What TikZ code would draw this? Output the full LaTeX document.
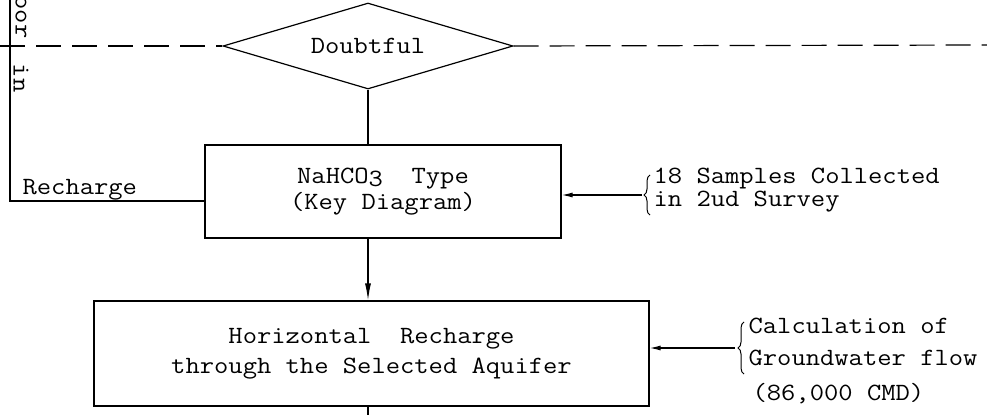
\documentclass[tikz,border=0pt]{standalone}
\usepackage{fontspec}
\setmonofont[FakeStretch=1.12]{Latin Modern Mono}
\usetikzlibrary{arrows.meta,shapes.geometric,decorations.pathreplacing}
\begin{document}
\begin{tikzpicture}[x=1pt,y=-1pt,line width=1.2pt,
  tt/.style={font=\ttfamily\fontsize{24.8}{23.5}\selectfont},
  box/.style={draw,rectangle,inner sep=0pt,tt,align=center},
  dia/.style={draw,diamond,shape aspect=3.37,inner sep=0pt,tt,minimum width=290pt,minimum height=86pt},
  dashline/.style={dash pattern=on 25pt off 11pt},
  arr/.style={-{Latex[length=11pt,width=5pt]}},
  varr/.style={-{Latex[length=17pt,width=6pt]}},
  brc/.style={decorate,decoration={brace,amplitude=6pt},line width=1pt},
  lbl/.style={tt,inner sep=0pt}]
\useasboundingbox (0,0) rectangle (987,415);
% nodes
\node[dia] (dia) at (368,46) {Doubtful};
\node[box,minimum width=356pt,minimum height=93pt,
  font=\ttfamily\fontsize{24.8}{26}\selectfont] (b1) at (383,191.5)
  {NaHCO\raisebox{-3pt}{3}~~Type\\(Key~Diagram)};
\node[box,minimum width=555pt,minimum height=105pt,
  font=\ttfamily\fontsize{24.8}{30}\selectfont] (b2) at (371.5,353.5)
  {Horizontal~~Recharge\\through the Selected Aquifer};
\node[lbl,anchor=base west] (rch) at (22,194) {Recharge};
\node[lbl,rotate=-90] (oor) at (21,17) {oor};
\node[lbl,rotate=-90] (in) at (21,78) {in};
\node[lbl,align=left,anchor=west] (n1) at (653,190) {18 Samples Collected\\in 2ud Survey};
\node[lbl,align=left,anchor=west,font=\ttfamily\fontsize{24.8}{32}\selectfont] (n2) at (748,342)
  {Calculation of\\Groundwater flow};
\node[lbl,anchor=west] (n3) at (752,394) {(86,000 CMD)};
% coordinates
\coordinate (dl) at (0,46);
\coordinate (dr) at (987,45);
\coordinate (ltop) at (10,0);
\coordinate (lbot) at (10,201);
\coordinate (bot) at (368,415);
\coordinate (t1) at (642,195);
\coordinate (t2) at (735,348);
% connectors
\draw[dashline] (dl) -- (dia.west);
\draw[dashline] (dia.east) -- (dr);
\draw (ltop) -- (lbot) -- (lbot -| b1.west);
\draw (dia.south) -- (dia.south |- b1.north);
\draw[varr] (b1.south -| dia.south) -- (b2.north -| dia.south);
\draw (b2.south -| bot) -- (bot);
\draw[brc] ([shift={(8,20)}]t1) -- ([shift={(8,-20)}]t1);
\draw[arr] (t1) -- (t1 -| b1.east);
\draw[brc] ([shift={(9,26)}]t2) -- ([shift={(9,-26)}]t2);
\draw[arr] (t2) -- (t2 -| b2.east);
\end{tikzpicture}
\end{document}
